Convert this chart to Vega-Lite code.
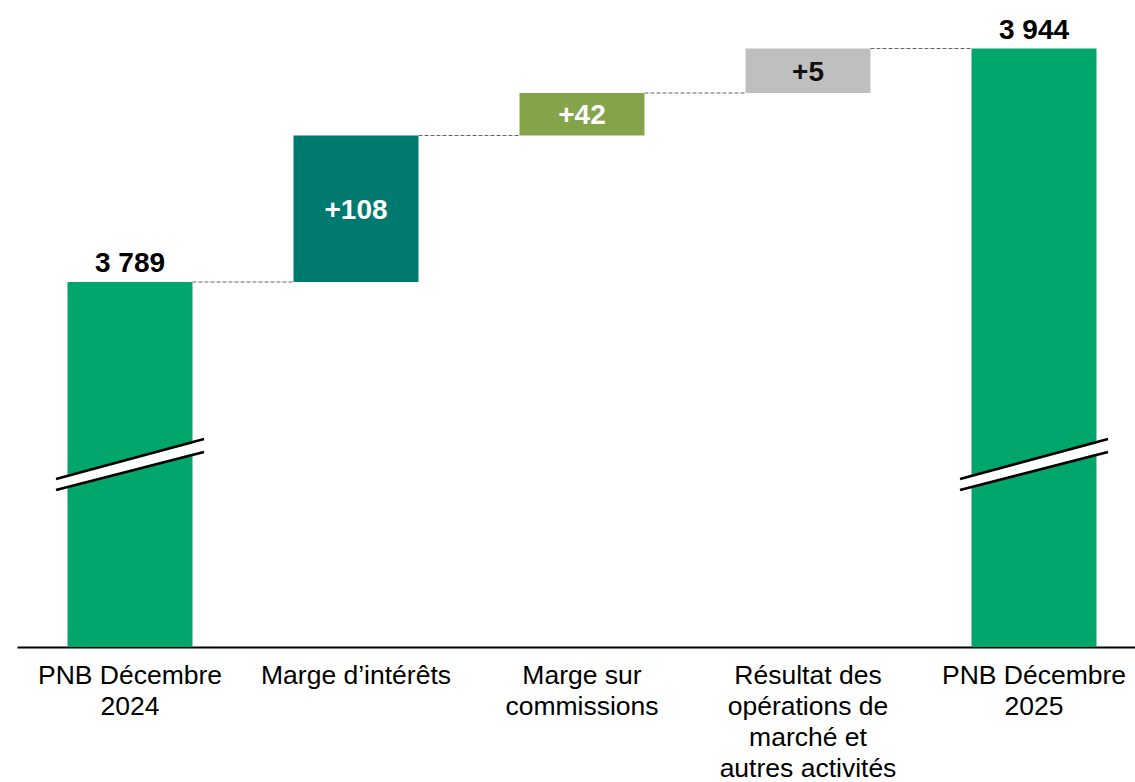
{
  "$schema": "https://vega.github.io/schema/vega-lite/v6.json",
  "width": 1130,
  "height": 647,
  "autosize": {"type": "none"},
  "padding": {"left": 17, "top": 0, "right": 0, "bottom": 135},
  "background": "white",
  "config": {"view": {"stroke": null}},
  "datasets": {
    "bars": [
      {"cat": "PNB Décembre|2024", "start": 0, "end": 3789, "label": "3 789", "type": "total"},
      {"cat": "Marge d’intérêts", "start": 3789, "end": 3897, "label": "+108", "type": "delta"},
      {"cat": "Marge sur|commissions", "start": 3897, "end": 3939, "label": "+42", "type": "delta"},
      {"cat": "Résultat des|opérations de|marché et|autres activités", "start": 3939, "end": 3944, "label": "+5", "type": "delta"},
      {"cat": "PNB Décembre|2025", "start": 0, "end": 3944, "label": "3 944", "type": "total"}
    ],
    "connectors": [
      {"from": "PNB Décembre|2024", "to": "Marge d’intérêts", "level": 3789},
      {"from": "Marge d’intérêts", "to": "Marge sur|commissions", "level": 3897},
      {"from": "Marge sur|commissions", "to": "Résultat des|opérations de|marché et|autres activités", "level": 3939},
      {"from": "Résultat des|opérations de|marché et|autres activités", "to": "PNB Décembre|2025", "level": 3944}
    ],
    "breaks": [
      {"cat": "PNB Décembre|2024", "line": "band", "yl": 1687, "yr": 2092},
      {"cat": "PNB Décembre|2024", "line": "upper", "yl": 1744, "yr": 2159},
      {"cat": "PNB Décembre|2024", "line": "lower", "yl": 1630, "yr": 2024},
      {"cat": "PNB Décembre|2025", "line": "band", "yl": 1687, "yr": 2092},
      {"cat": "PNB Décembre|2025", "line": "upper", "yl": 1744, "yr": 2159},
      {"cat": "PNB Décembre|2025", "line": "lower", "yl": 1630, "yr": 2024}
    ]
  },
  "encoding": {
    "x": {
      "field": "cat",
      "type": "nominal",
      "scale": {
        "domain": ["PNB Décembre|2024", "Marge d’intérêts", "Marge sur|commissions", "Résultat des|opérations de|marché et|autres activités", "PNB Décembre|2025"],
        "paddingInner": 0,
        "paddingOuter": 0
      },
      "axis": {
        "title": null,
        "labelExpr": "split(datum.label, '|')",
        "labelAngle": 0,
        "labelFont": "Liberation Sans",
        "labelFontSize": 26.5,
        "labelColor": "black",
        "labelLineHeight": 31,
        "labelPadding": 15,
        "labelLimit": 400,
        "labelOverlap": false,
        "labelBaseline": "top",
        "ticks": false,
        "domainColor": "black",
        "domainWidth": 2,
        "grid": false
      }
    }
  },
  "layer": [
    {
      "data": {"name": "bars"},
      "mark": {"type": "bar", "width": {"band": 0.553}},
      "encoding": {
        "y": {
          "field": "start",
          "type": "quantitative",
          "scale": {"domain": [0, 3789, 3897, 3939, 3944], "range": [647, 282, 135.5, 93, 48.5], "nice": false, "zero": false},
          "axis": null
        },
        "y2": {"field": "end"},
        "color": {
          "field": "cat",
          "type": "nominal",
          "scale": {
            "domain": ["PNB Décembre|2024", "Marge d’intérêts", "Marge sur|commissions", "Résultat des|opérations de|marché et|autres activités", "PNB Décembre|2025"],
            "range": ["#00A66C", "#00796F", "#84A44A", "#BFBFBF", "#00A66C"]
          },
          "legend": null
        }
      }
    },
    {
      "data": {"name": "connectors"},
      "mark": {"type": "rule", "color": "#666666", "strokeWidth": 1.2, "strokeDash": [4, 2], "xOffset": 62.5, "x2Offset": -62.5},
      "encoding": {
        "x": {"field": "from", "type": "nominal"},
        "x2": {"field": "to"},
        "y": {"field": "level", "type": "quantitative"}
      }
    },
    {
      "data": {"name": "breaks"},
      "transform": [{"filter": "datum.line === 'band'"}],
      "mark": {"type": "rule", "color": "white", "strokeWidth": 10, "xOffset": -74, "x2Offset": 74},
      "encoding": {
        "x": {"field": "cat", "type": "nominal"},
        "x2": {"field": "cat"},
        "y": {"field": "yl", "type": "quantitative"},
        "y2": {"field": "yr"}
      }
    },
    {
      "data": {"name": "breaks"},
      "transform": [{"filter": "datum.line !== 'band'"}],
      "mark": {"type": "rule", "color": "black", "strokeWidth": 2.5, "xOffset": -74, "x2Offset": 74},
      "encoding": {
        "x": {"field": "cat", "type": "nominal"},
        "x2": {"field": "cat"},
        "y": {"field": "yl", "type": "quantitative"},
        "y2": {"field": "yr"},
        "detail": {"field": "line"}
      }
    },
    {
      "data": {"name": "bars"},
      "transform": [{"filter": "datum.type === 'total'"}],
      "mark": {"type": "text", "font": "Liberation Sans", "fontWeight": "bold", "fontSize": 28, "baseline": "alphabetic", "dy": -10, "color": "black"},
      "encoding": {
        "y": {"field": "end", "type": "quantitative"},
        "text": {"field": "label"}
      }
    },
    {
      "data": {"name": "bars"},
      "transform": [{"filter": "datum.type === 'delta'"}, {"calculate": "(datum.start + datum.end) / 2", "as": "mid"}],
      "mark": {"type": "text", "font": "Liberation Sans", "fontWeight": "bold", "fontSize": 28, "baseline": "middle", "dy": 2},
      "encoding": {
        "y": {"field": "mid", "type": "quantitative"},
        "text": {"field": "label"},
        "color": {"condition": {"test": "datum.label === '+5'", "value": "#111111"}, "value": "white"}
      }
    }
  ]
}
